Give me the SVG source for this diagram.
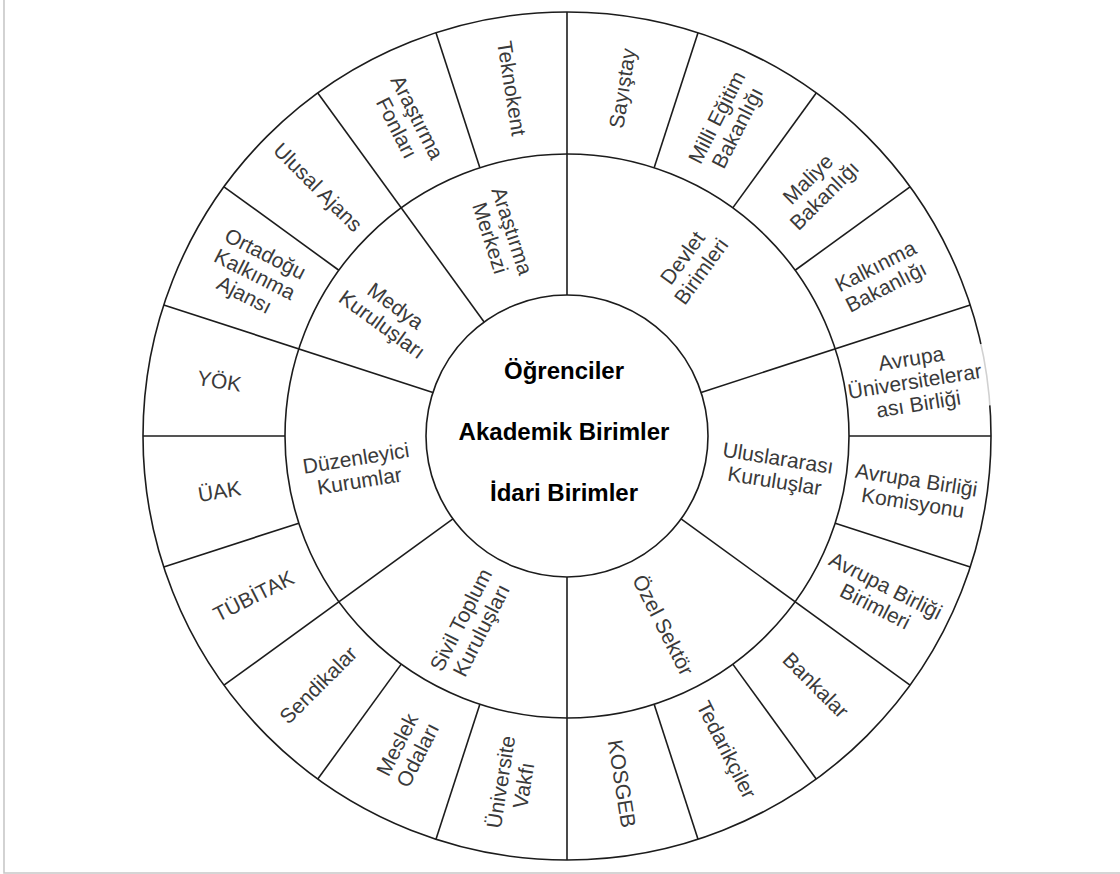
<svg xmlns="http://www.w3.org/2000/svg" width="1120" height="874" viewBox="0 0 1120 874">
<style>
.ln{stroke:#1c1c1c;stroke-width:1.6;fill:none}
.lbl{font-family:"Liberation Sans",Arial,sans-serif;font-size:21px;fill:#3a3a3a;text-anchor:middle}
.ctr{font-family:"Liberation Sans",Arial,sans-serif;font-size:24px;font-weight:bold;fill:#000;text-anchor:middle}
.frame{stroke:#c8c8c8;stroke-width:1.6;fill:none}
</style>
<rect x="0" y="0" width="1120" height="874" fill="#fff"/>
<path class="frame" d="M4,0 V873 H1120"/>

<g id="wheel-lines">
<circle class="ln" cx="567" cy="436" r="424"/>
<circle class="ln" cx="567" cy="436" r="282"/>
<circle class="ln" cx="567" cy="436" r="141"/>
</g>

<g id="connectors">
<line class="ln" x1="567" y1="295" x2="567" y2="12"/>
<line class="ln" x1="701.10" y1="392.43" x2="970.25" y2="304.98"/>
<line class="ln" x1="681.07" y1="518.88" x2="910.02" y2="685.22"/>
<line class="ln" x1="567" y1="577" x2="567" y2="860"/>
<line class="ln" x1="452.93" y1="518.88" x2="223.98" y2="685.22"/>
<line class="ln" x1="432.90" y1="392.43" x2="163.75" y2="304.98"/>
<line class="ln" x1="484.12" y1="321.93" x2="317.78" y2="92.98"/>
<line class="ln" x1="654.14" y1="167.80" x2="698.02" y2="32.75"/>
<line class="ln" x1="732.76" y1="207.86" x2="816.22" y2="92.98"/>
<line class="ln" x1="795.14" y1="270.24" x2="910.02" y2="186.78"/>
<line class="ln" x1="849" y1="436" x2="991" y2="436"/>
<line class="ln" x1="835.20" y1="523.14" x2="970.25" y2="567.02"/>
<line class="ln" x1="732.76" y1="664.14" x2="816.22" y2="779.02"/>
<line class="ln" x1="654.14" y1="704.20" x2="698.02" y2="839.25"/>
<line class="ln" x1="479.86" y1="704.20" x2="435.98" y2="839.25"/>
<line class="ln" x1="401.24" y1="664.14" x2="317.78" y2="779.02"/>
<line class="ln" x1="298.80" y1="523.14" x2="163.75" y2="567.02"/>
<line class="ln" x1="285" y1="436" x2="143" y2="436"/>
<line class="ln" x1="338.86" y1="270.24" x2="223.98" y2="186.78"/>
<line class="ln" x1="479.86" y1="167.80" x2="435.98" y2="32.75"/>
</g>

<g id="center">
<text class="ctr" x="564" y="379">Öğrenciler</text>
<text class="ctr" x="564" y="440">Akademik Birimler</text>
<text class="ctr" x="564" y="501">İdari Birimler</text>
</g>

<g id="mid-arastirma-merkezi" transform="translate(501.5,234.4) rotate(72)"><text class="lbl"><tspan x="0" y="-4">Araştırma</tspan><tspan x="0" y="19">Merkezi</tspan></text></g>
<g id="mid-devlet" transform="translate(691.6,264.5) rotate(-54)"><text class="lbl"><tspan x="0" y="-4">Devlet</tspan><tspan x="0" y="19">Birimleri</tspan></text></g>
<g id="mid-uluslararasi" transform="translate(776.4,469.2) rotate(9)"><text class="lbl"><tspan x="0" y="-4">Uluslararası</tspan><tspan x="0" y="19">Kuruluşlar</tspan></text></g>
<g id="mid-ozel" transform="translate(663.3,624.9) rotate(63)"><text class="lbl" x="0" y="7.5">Özel Sektör</text></g>
<g id="mid-sivil" transform="translate(470.8,624.9) rotate(-63)"><text class="lbl"><tspan x="0" y="-4">Sivil Toplum</tspan><tspan x="0" y="19">Kuruluşları</tspan></text></g>
<g id="mid-duzenleyici" transform="translate(357.6,469.2) rotate(-9)"><text class="lbl"><tspan x="0" y="-4">Düzenleyici</tspan><tspan x="0" y="19">Kurumlar</tspan></text></g>
<g id="mid-medya" transform="translate(389,315) rotate(36)"><text class="lbl"><tspan x="0" y="-4">Medya</tspan><tspan x="0" y="19">Kuruluşları</tspan></text></g>

<g id="out-sayistay" transform="translate(622.1,88.3) rotate(-81)"><text class="lbl" x="0" y="7.5">Sayıştay</text></g>
<g id="out-meb" transform="translate(726.8,122.4) rotate(-63)"><text class="lbl"><tspan x="0" y="-4">Milli Eğitim</tspan><tspan x="0" y="19">Bakanlığı</tspan></text></g>
<g id="out-maliye" transform="translate(815.9,187.1) rotate(-45)"><text class="lbl"><tspan x="0" y="-4">Maliye</tspan><tspan x="0" y="19">Bakanlığı</tspan></text></g>
<g id="out-kalkinma-bak" transform="translate(880.6,276.2) rotate(-27)"><text class="lbl"><tspan x="0" y="-4">Kalkınma</tspan><tspan x="0" y="19">Bakanlığı</tspan></text></g>
<g id="out-eua" transform="translate(914.7,380.9) rotate(-9)"><rect x="65" y="-26" width="16" height="62" fill="#fff" fill-opacity="0.8"/><text class="lbl"><tspan x="0" y="-15.5">Avrupa</tspan><tspan x="0" y="7.5">Üniversitelerar</tspan><tspan x="0" y="30.5">ası Birliği</tspan></text></g>
<g id="out-ab-komisyonu" transform="translate(914.7,491.1) rotate(9)"><text class="lbl"><tspan x="0" y="-4">Avrupa Birliği</tspan><tspan x="0" y="19">Komisyonu</tspan></text></g>
<g id="out-ab-birimleri" transform="translate(880.6,595.8) rotate(27)"><text class="lbl"><tspan x="0" y="-4">Avrupa Birliği</tspan><tspan x="0" y="19">Birimleri</tspan></text></g>
<g id="out-bankalar" transform="translate(815.9,684.9) rotate(45)"><text class="lbl" x="0" y="7.5">Bankalar</text></g>
<g id="out-tedarikciler" transform="translate(726.8,749.6) rotate(63)"><text class="lbl" x="0" y="7.5">Tedarikçiler</text></g>
<g id="out-kosgeb" transform="translate(622.1,783.7) rotate(81)"><text class="lbl" x="0" y="7.5">KOSGEB</text></g>
<g id="out-universite-vakfi" transform="translate(511.9,783.7) rotate(-81)"><text class="lbl"><tspan x="0" y="-4">Üniversite</tspan><tspan x="0" y="19">Vakfı</tspan></text></g>
<g id="out-meslek" transform="translate(407.2,749.6) rotate(-63)"><text class="lbl"><tspan x="0" y="-4">Meslek</tspan><tspan x="0" y="19">Odaları</tspan></text></g>
<g id="out-sendikalar" transform="translate(318.1,684.9) rotate(-45)"><text class="lbl" x="0" y="7.5">Sendikalar</text></g>
<g id="out-tubitak" transform="translate(253.4,595.8) rotate(-27)"><text class="lbl" x="0" y="7.5">TÜBİTAK</text></g>
<g id="out-uak" transform="translate(219.3,491.1) rotate(-9)"><text class="lbl" x="0" y="7.5">ÜAK</text></g>
<g id="out-yok" transform="translate(219.3,380.9) rotate(9)"><text class="lbl" x="0" y="7.5">YÖK</text></g>
<g id="out-ortadogu" transform="translate(255,274) rotate(27)"><text class="lbl"><tspan x="0" y="-15.5">Ortadoğu</tspan><tspan x="0" y="7.5">Kalkınma</tspan><tspan x="0" y="30.5">Ajansı</tspan></text></g>
<g id="out-ulusal-ajans" transform="translate(318.1,187.1) rotate(45)"><text class="lbl" x="0" y="7.5">Ulusal Ajans</text></g>
<g id="out-arastirma-fonlari" transform="translate(407.2,122.4) rotate(63)"><text class="lbl"><tspan x="0" y="-4">Araştırma</tspan><tspan x="0" y="19">Fonları</tspan></text></g>
<g id="out-teknokent" transform="translate(511.9,88.3) rotate(81)"><text class="lbl" x="0" y="7.5">Teknokent</text></g>
</svg>
